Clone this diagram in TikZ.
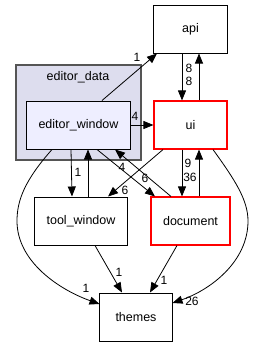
\documentclass[tikz,border=0pt]{standalone}
\usepackage{fontspec}
\setmainfont{Liberation Sans}
\usetikzlibrary{arrows.meta,calc}
\definecolor{clusterfill}{HTML}{DDDDEE}
\definecolor{clusterline}{HTML}{555555}
\definecolor{ewfill}{HTML}{EEEEFF}
\begin{document}
\begin{tikzpicture}[x=1bp,y=-1bp,
  every node/.style={font=\fontsize{12.5bp}{14bp}\selectfont, inner sep=0pt},
  box/.style={draw=black, line width=1bp, fill=white, minimum height=48bp},
  redbox/.style={box, draw=red, line width=1.1bp},
  lbl/.style={font=\fontsize{12bp}{13bp}\selectfont},
  edge/.style={draw=black, line width=0.8bp, -{Triangle[length=10bp,width=8bp]}}
]
\useasboundingbox (0,0) rectangle (254,347);
% cluster
\draw[fill=clusterfill, draw=clusterline, line width=1.2bp] (16,65) rectangle (141,160);
\node (cl) at (78,77) {editor\_data};
% nodes
\node[box, fill=ewfill, minimum width=103bp] (ew) at (78.5,125) {editor\_window};
\node[box, minimum width=73bp] (api) at (190.5,29) {api};
\node[redbox, minimum width=73bp] (ui) at (190.5,125) {ui};
\node[box, minimum width=92bp] (tw) at (81,221) {tool\_window};
\node[redbox, minimum width=79bp] (doc) at (190.5,221) {document};
\node[box, minimum width=72bp] (th) at (136,317) {themes};
% edges
\draw[edge] (102,0 |- ew.north) -- (157,0 |- api.south);
\draw[edge] (182,0 |- api.south) -- (182,0 |- ui.north);
\draw[edge] (199,0 |- ui.north) -- (199,0 |- api.south);
\draw[edge] (ew.east) -- (ui.west);
\draw[edge] (71,0 |- ew.south) -- (72,0 |- tw.north);
\draw[edge] (88,0 |- tw.north) -- (88,0 |- ew.south);
\draw[edge] (52,0 |- ew.south) .. controls (25,180) and (17,200) .. (17,221)
   .. controls (17,262) and (60,290) .. (th.west |- 0,304);
\draw[edge] (97,0 |- ew.south) -- (155,0 |- doc.north);
\draw[edge] (171,0 |- doc.north) -- (115,0 |- ew.south);
\draw[edge] (163,0 |- ui.south) -- (108,0 |- tw.north);
\draw[edge] (182,0 |- ui.south) -- (182,0 |- doc.north);
\draw[edge] (199,0 |- doc.north) -- (199,0 |- ui.south);
\draw[edge] (213,0 |- ui.south) .. controls (235,180) and (248,200) .. (248,221)
   .. controls (248,262) and (210,290) .. (th.east |- 0,303);
\draw[edge] (95,0 |- tw.south) -- (122,0 |- th.north);
\draw[edge] (177,0 |- doc.south) -- (150,0 |- th.north);
% labels
\node[lbl] (l1) at (137,57) {1};
\node[lbl] (l2) at (189,68.5) {8};
\node[lbl] (l3) at (189,81.5) {8};
\node[lbl] (l4) at (135,116) {4};
\node[lbl] (l5) at (78,172) {1};
\node[lbl] (l6) at (122,167) {4};
\node[lbl] (l7) at (145,178) {6};
\node[lbl] (l8) at (125,190) {6};
\node[lbl] (l9) at (188,163) {9};
\node[lbl] (l10) at (190,177) {36};
\node[lbl] (l11) at (119,272) {1};
\node[lbl] (l12) at (164,280) {1};
\node[lbl] (l13) at (86,288) {1};
\node[lbl] (l14) at (192,301) {26};
\end{tikzpicture}
\end{document}
